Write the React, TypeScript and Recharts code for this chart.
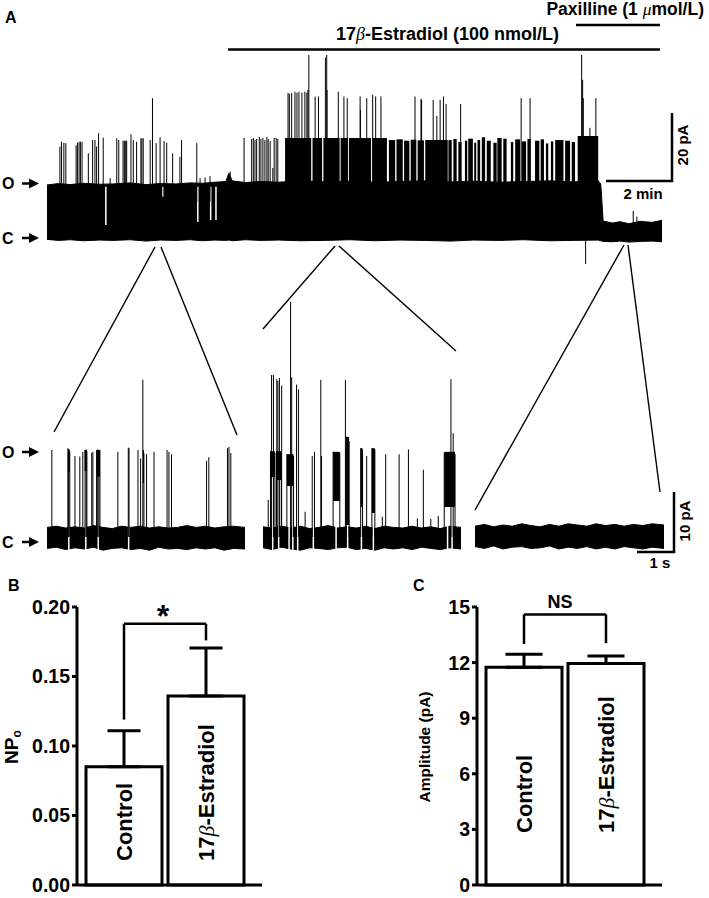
import React from 'react'
import {
  ComposedChart, Area, Line, XAxis, YAxis, ReferenceArea,
  BarChart, Bar, ErrorBar, LabelList, ReferenceLine,
} from 'recharts'

const FONT = '"Liberation Sans", Arial, Helvetica, sans-serif'
const SERIF = '"Liberation Serif", "DejaVu Serif", serif'

// ---------- A, whole recording: time in min, current in pA ----------
const topBandT = [0, 0.35, 0.7, 1.1, 1.6, 2.0, 2.51, 3.0, 3.42, 3.9, 4.33, 4.7, 5.08, 5.41, 5.5, 5.6, 6.0, 6.44, 7.0, 7.65,
  8.4, 9.17, 9.9, 10.68, 11.4, 12.19, 12.9, 13.7, 14.4, 15.21, 15.9, 16.67, 16.75, 16.82, 17.1, 17.33, 17.6, 17.94, 18.3, 18.6]
const topBandLo = [-1.0, -1.3, -1.1, -1.4, -1.2, -1.3, -1.1, -1.5, -1.2, -1.3, -1.1, -1.4, -1.2, -1.3, -1.2, -1.4, -1.1, -1.3, -1.2, -1.4,
  -1.3, -1.1, -1.4, -1.2, -1.3, -1.5, -1.2, -1.3, -1.1, -1.4, -1.3, -1.2, -1.4, -1.6, -1.7, -1.5, -1.8, -1.6, -1.5, -1.7]
const topBandHi = [15.0, 15.4, 15.1, 15.5, 15.2, 15.3, 15.6, 15.1, 15.4, 15.3, 15.6, 15.5, 15.8, 16.0, 18.5, 16.2, 15.7, 16.0, 15.8, 16.2,
  15.9, 16.1, 15.8, 16.0, 16.2, 15.9, 16.1, 15.8, 16.0, 16.2, 15.9, 16.3, 15.0, 4.4, 3.8, 4.2, 3.6, 4.3, 4.0, 4.6]

// openings above the band [t, peak]
const topSpikes: [number, number][] = [
  [0.39, 26.3], [0.44, 27.7], [0.51, 27.4], [0.57, 27.3], [0.88, 26.6], [0.92, 27.4], [0.97, 27.7], [1.01, 27.7], [1.06, 27.7],
  [1.25, 24.3], [1.38, 28.2], [1.45, 28.2], [1.5, 26.3], [1.56, 30.2], [1.7, 28.9], [1.91, 17.0], [2.11, 28.7], [2.17, 28.2],
  [2.3, 28.0], [2.34, 28.0], [2.38, 28.0], [2.41, 28.0], [2.54, 29.9], [2.61, 28.2], [2.71, 27.7], [2.84, 28.7], [2.87, 28.7],
  [2.91, 28.7], [3.12, 28.2], [3.19, 40.5], [3.3, 27.3], [3.42, 29.0], [3.54, 27.9], [3.62, 27.4], [3.8, 24.3], [4.02, 23.3],
  [4.07, 28.2], [4.53, 27.3], [4.63, 17.0], [4.78, 17.2], [4.93, 17.6], [5.54, 18.9],
  [5.96, 28.8], [6.19, 28.5], [6.24, 28.8], [6.29, 28.2], [6.34, 28.5], [6.42, 29.1], [6.47, 28.5], [6.53, 28.8], [6.59, 28.2],
  [6.65, 29.1], [6.69, 28.5], [6.75, 27.9], [6.83, 20.0], [6.87, 28.8], [6.93, 28.8], [6.98, 28.5],
  [7.29, 42.0], [7.33, 41.8], [7.4, 42.0], [7.5, 42.4], [7.56, 42.1], [7.62, 42.4], [7.71, 42.1], [7.8, 42.4], [7.86, 42.1],
  [7.89, 42.9], [7.92, 53.2], [8.11, 41.0], [8.21, 41.0], [8.42, 52.4], [8.46, 53.2], [8.47, 42.9], [8.81, 42.4], [8.98, 41.0],
  [9.08, 40.5], [9.47, 41.0], [9.48, 37.1], [9.67, 40.5], [9.85, 41.5], [9.94, 41.0], [10.1, 41.0], [11.13, 41.0], [11.31, 40.3],
  [11.33, 40.0], [11.68, 40.0], [11.79, 35.3], [11.89, 40.0], [11.99, 41.0], [12.07, 38.8], [12.51, 38.8], [14.34, 40.5],
  [14.61, 40.5], [16.17, 53.2], [16.2, 45.9], [16.22, 40.5], [16.42, 31.8], [16.6, 40.5], [16.73, 15.6],
]
const paxSpikes: [number, number][] = [[17.73, 7.4], [17.84, 5.7]]
const downSpikes: [number, number][] = [[16.29, -8.2]]
// stretches where openings pile up [t1, t2, lo, hi]
const topBlocks: [number, number, number, number][] = [
  [7.2, 7.99, 15, 28.8], [8.03, 8.32, 15, 28.8], [8.36, 8.85, 15, 28.8], [8.88, 9.1, 15, 28.8], [9.13, 9.8, 15, 28.8],
  [9.84, 10.28, 15, 28.8], [10.34, 10.53, 15, 28.2], [10.57, 10.76, 15, 28.4], [10.8, 10.96, 15, 28.0], [11.0, 11.17, 15, 28.3],
  [11.21, 11.4, 15, 28.1], [11.44, 12.12, 15, 28.2],
  [12.14, 12.24, 15, 28.2], [12.29, 12.39, 15, 28.5], [12.44, 12.54, 15, 27.6], [12.64, 12.71, 15, 28.0], [12.74, 12.88, 15, 28.6],
  [12.92, 12.98, 15, 27.4], [13.02, 13.1, 15, 28.2], [13.15, 13.25, 15, 29.0], [13.3, 13.42, 15, 28.0], [13.5, 13.6, 15, 27.4],
  [13.62, 13.75, 15, 28.8], [13.8, 13.9, 15, 28.6], [14.03, 14.1, 15, 27.6], [14.16, 14.31, 15, 28.4], [14.36, 14.49, 15, 27.8],
  [14.53, 14.63, 15, 28.5], [14.76, 14.89, 15, 28.0], [14.93, 15.03, 15, 28.4], [15.09, 15.16, 15, 27.2], [15.24, 15.31, 15, 27.8],
  [15.37, 15.62, 15, 28.2], [15.67, 15.82, 15, 28.0], [15.87, 15.97, 15, 27.6], [16.05, 16.67, 15, 29.4],
]
// long openings that leave the band empty [t, from, to]
const topGaps: [number, number, number][] = [[1.78, 14.5, 3.2], [3.51, 14.5, 11.5], [4.56, 14.5, 4.1], [4.95, 14.5, 4.7], [5.11, 14.5, 4.7]]

// ---------- A, expanded sweeps: time in s, current in pA ----------
const sweepT = [0, 0.25, 0.5, 0.75, 1, 1.25, 1.5, 1.75, 2, 2.25, 2.5, 2.75, 3, 3.25, 3.5, 3.75, 4, 4.25, 4.5, 4.75, 5, 5.31]
const ctlHi = [1.6, 1.8, 1.5, 1.7, 1.5, 1.9, 1.6, 1.4, 1.8, 1.6, 1.8, 1.5, 1.7, 1.5, 1.6, 1.9, 1.6, 1.8, 1.5, 1.7, 1.8, 1.6]
const ctlLo = [-1.9, -1.7, -2.1, -1.8, -2.0, -1.7, -2.2, -1.9, -1.8, -2.1, -1.9, -2.2, -1.7, -2.0, -1.9, -2.1, -1.8, -2.0, -1.8, -2.2, -1.9, -2.0]
const ctlSpikes: [number, number][] = [
  [0.13, 14.5], [0.56, 14.8], [0.58, 14.6], [0.61, 14.3], [0.75, 13.5], [0.88, 13.4], [0.96, 14.2], [1.02, 14.5], [1.05, 14.6],
  [1.07, 14.3], [1.2, 14.0], [1.23, 14.2], [1.33, 14.5], [1.36, 14.6], [1.39, 14.4], [1.42, 14.5], [1.9, 14.2], [2.18, 14.9],
  [2.2, 14.8], [2.44, 14.5], [2.51, 13.1], [2.57, 26.2], [2.6, 14.0], [2.67, 13.8], [2.87, 14.2], [3.22, 14.5], [3.27, 14.2],
  [3.34, 13.8], [4.28, 12.7], [4.34, 13.3], [4.84, 14.8], [4.88, 15.0], [4.93, 14.0],
]
const ctlBlocks: [number, number, number, number][] = [[0.56, 0.61, 10.9, 14.6], [1.01, 1.07, 11.0, 14.5], [1.33, 1.42, 10.1, 14.5], [2.57, 2.6, 9.0, 14.5]]
const ctlGaps: [number, number, number][] = [[0.585, 1.9, -2.3], [1.04, 1.9, -2.3], [1.375, 1.9, -2.3], [2.19, 1.9, -2.3]]

const e2Hi = [1.7, 1.5, 1.8, 1.5, 1.8, 1.4, 1.6, 1.9, 1.5, 1.7, 1.5, 1.8, 1.4, 1.8, 1.6, 1.5, 1.8, 1.5, 1.7, 1.4, 1.8, 1.6]
const e2Lo = [-1.8, -2.1, -1.7, -2.0, -2.2, -1.8, -1.9, -2.1, -1.8, -1.7, -2.1, -1.9, -2.2, -1.8, -2.0, -1.8, -2.1, -1.7, -1.9, -2.1, -1.8, -2.0]
const e2Spikes: [number, number][] = [
  [0.14, 6.2], [0.2, 14.3], [0.23, 27.0], [0.28, 27.0], [0.32, 14.0], [0.36, 14.3], [0.37, 26.3], [0.4, 26.0], [0.44, 26.5],
  [0.49, 14.0], [0.5, 25.2], [0.64, 13.8], [0.74, 39.2], [0.77, 26.6], [0.82, 13.5], [0.9, 25.4], [0.95, 24.6], [1.13, 4.2],
  [1.32, 13.5], [1.38, 14.2], [1.55, 26.2], [1.57, 13.5], [1.88, 14.2], [2.06, 14.0], [2.21, 26.2], [2.23, 16.7], [2.31, 16.0],
  [2.62, 14.8], [2.67, 14.5], [2.78, 13.5], [2.92, 14.8], [3.0, 14.6], [3.2, 3.4], [3.29, 13.8], [3.65, 13.8], [3.9, 14.6],
  [4.14, 3.1], [4.3, 11.2], [4.5, 3.0], [4.7, 3.5], [4.86, 14.0], [5.04, 26.3], [5.1, 17.3], [5.15, 13.8],
]
const e2Blocks: [number, number, number, number][] = [
  [0.2, 0.32, 10.0, 14.3], [0.36, 0.49, 9.5, 14.3], [0.64, 0.82, 8.5, 13.8], [1.88, 2.06, 6.0, 14.2], [2.23, 2.31, 2.0, 16.7],
  [2.62, 2.67, 5.0, 14.8], [2.92, 3.0, 4.0, 14.8], [4.86, 5.15, 5.0, 14.2],
]
const e2Gaps: [number, number, number][] = [
  [0.26, 1.9, -2.3], [0.42, 1.9, -2.3], [0.7, 1.9, -2.3], [0.8, 1.9, -2.3], [0.93, 1.9, -2.3], [1.35, 1.9, -2.3], [1.96, 1.9, -2.3],
  [2.27, 1.9, -2.3], [2.64, 1.9, -2.3], [2.96, 1.9, -2.3], [4.95, 1.9, -2.3], [5.07, 1.9, -2.3],
]

const paxT = [0, 0.25, 0.5, 0.75, 1, 1.25, 1.5, 1.75, 2, 2.25, 2.5, 2.75, 3, 3.25, 3.5, 3.75, 4, 4.25, 4.5, 4.75, 5.07]
const paxHi = [1.8, 2.1, 1.7, 2.0, 1.8, 2.2, 1.9, 1.7, 2.1, 1.8, 2.2, 2.0, 1.8, 2.2, 1.9, 2.1, 1.8, 2.1, 1.9, 2.2, 2.0]
const paxLo = [-1.6, -1.9, -1.5, -2.0, -1.7, -1.6, -1.9, -1.8, -1.5, -2.0, -1.7, -1.9, -1.6, -2.0, -1.7, -2.0, -1.6, -1.8, -2.0, -1.7, -1.9]

// ---------- B and C ----------
const groups = ['Control', '17β-Estradiol']
const npoMean = [0.085, 0.136]
const npoSem = [0.026, 0.0345]
const npoTicks = [0, 0.05, 0.1, 0.15, 0.2]
const ampMean = [11.75, 11.95]
const ampSem = [0.7, 0.4]
const ampTicks = [0, 3, 6, 9, 12, 15]
const npoBracket = [0.188, 0.119, 0.176] // bar height, left leg end, right leg end
const ampBracket = [14.6, 13.0, 13.05]

const band = (t: number[], lo: number[], hi: number[]) => t.map((x, i) => ({ t: x, r: [lo[i], hi[i]] }))
const sticks = (list: [number, number][], base: number) =>
  list.flatMap(([t, p]) => [{ t, v: base }, { t, v: p }, { t, v: null }])
const cuts = (list: [number, number, number][]) =>
  list.flatMap(([t, a, b]) => [{ t, v: a }, { t, v: b }, { t, v: null }])

function Trace(props: any) {
  const { left, top, width, height, xMax, yMin, yMax, bandData, blocks, gaps, spikes } = props
  return (
    <div style={{ position: 'absolute', left, top }}>
      <ComposedChart width={width} height={height} margin={{ top: 0, right: 0, bottom: 0, left: 0 }}>
        <XAxis type="number" dataKey="t" domain={[0, xMax]} hide allowDataOverflow />
        <YAxis type="number" domain={[yMin, yMax]} hide allowDataOverflow />
        <Area data={bandData} dataKey="r" type="linear" stroke="#000" strokeWidth={1} fill="#000" fillOpacity={1} isAnimationActive={false} />
        {blocks.map(([a, b, lo, hi]: number[], i: number) => (
          <ReferenceArea key={i} x1={a} x2={b} y1={lo} y2={hi} fill="#000" fillOpacity={1} stroke="none" ifOverflow="visible" />
        ))}
        <Line data={gaps} dataKey="v" stroke="#fff" strokeWidth={1.5} dot={false} connectNulls={false} isAnimationActive={false} />
        {spikes.map((s: any[], i: number) => (
          <Line key={i} data={s} dataKey="v" stroke="#000" strokeWidth={1} dot={false} connectNulls={false} isAnimationActive={false} />
        ))}
      </ComposedChart>
    </div>
  )
}

const barLabel = (lift: number) => (p: any) => {
  const { x, y, width, height, value } = p
  const cx = x + width / 2
  const by = y + height - lift
  const parts = String(value).split('β')
  return (
    <text x={cx} y={by} dy="0.36em" transform={`rotate(-90 ${cx} ${by})`} fontFamily={FONT} fontWeight="bold" fontSize={22} fill="#000">
      {parts[0]}
      {parts.length > 1 && <tspan fontFamily={SERIF} fontStyle="italic" fontWeight="normal">β</tspan>}
      {parts.length > 1 && parts[1]}
    </text>
  )
}

function Bars(props: any) {
  const { left, mean, sem, ticks, max, fmt, lift, cap, bracket } = props
  const data = groups.map((name, i) => ({ name, value: mean[i], err: [0, sem[i]] }))
  const [hTop, lEnd, rEnd] = bracket
  const ax = { stroke: '#000', strokeWidth: 3 }
  const br = { stroke: '#000', strokeWidth: 2.5, ifOverflow: 'visible' as const }
  return (
    <div style={{ position: 'absolute', left, top: 587 }}>
      <BarChart width={250} height={310} data={data} margin={{ top: 20, right: 5, bottom: 11, left: 0 }}>
        <XAxis dataKey="name" tick={false} tickLine={false} axisLine={ax} height={1} padding={{ left: 6, right: 15 }} />
        <YAxis domain={[0, max]} ticks={ticks} interval={0} tickFormatter={fmt} width={60} tickSize={5} tickMargin={2}
          axisLine={ax} tickLine={ax} tick={{ fill: '#000', fontSize: 19.5, fontWeight: 'bold', fontFamily: FONT }} />
        <Bar dataKey="value" barSize={76} fill="#fff" stroke="#000" strokeWidth={3} isAnimationActive={false}>
          <ErrorBar dataKey="err" width={cap} stroke="#000" strokeWidth={3} direction="y" />
          <LabelList dataKey="name" content={barLabel(lift)} />
        </Bar>
        <ReferenceLine segment={[{ x: groups[0], y: hTop }, { x: groups[1], y: hTop }]} {...br} />
        <ReferenceLine segment={[{ x: groups[0], y: hTop }, { x: groups[0], y: lEnd }]} {...br} />
        <ReferenceLine segment={[{ x: groups[1], y: hTop }, { x: groups[1], y: rEnd }]} {...br} />
      </BarChart>
    </div>
  )
}

function Overlay() {
  const arrow = (y: number, letter: string) => (
    <g key={letter + y}>
      <text x={2} y={y + 5.7} fontSize={16} fontWeight="bold">{letter}</text>
      <line x1={22} y1={y} x2={31} y2={y} stroke="#000" strokeWidth={2.5} />
      <polygon points={`29,${y - 5} 39,${y} 29,${y + 5}`} fill="#000" />
    </g>
  )
  const zoom = [
    [155, 247, 54, 432], [161, 247, 237, 435], [335, 246, 263, 329],
    [339, 246, 456, 351], [624, 245, 475, 510], [628, 245, 660, 492],
  ]
  const beta = <tspan fontFamily={SERIF} fontStyle="italic" fontWeight="normal">β</tspan>
  return (
    <svg width={709} height={898} style={{ position: 'absolute', left: 0, top: 0, pointerEvents: 'none' }}
      fontFamily={FONT} fill="#000">
      <text x={5} y={23} fontSize={16} fontWeight="bold">A</text>
      <text x={8} y={591} fontSize={16} fontWeight="bold">B</text>
      <text x={413} y={591} fontSize={16} fontWeight="bold">C</text>

      <text x={704} y={15} fontSize={17.5} fontWeight="bold" textAnchor="end">
        Paxilline (1 <tspan fontFamily={SERIF} fontStyle="italic" fontWeight="normal">μ</tspan>mol/L)
      </text>
      <line x1={576} y1={25} x2={660} y2={25} stroke="#000" strokeWidth={2.5} />
      <text x={336} y={39.5} fontSize={18} fontWeight="bold">17{beta}-Estradiol (100 nmol/L)</text>
      <line x1={228} y1={49.5} x2={660} y2={49.5} stroke="#000" strokeWidth={2.5} />

      {arrow(183.5, 'O')}
      {arrow(238, 'C')}
      {arrow(452, 'O')}
      {arrow(542, 'C')}

      <polyline points="672,113 672,181 606,181" fill="none" stroke="#000" strokeWidth={2.5} />
      <text x={688} y={145} fontSize={15} fontWeight="bold" textAnchor="middle" transform="rotate(-90 688 145)">20 pA</text>
      <text x={643} y={199} fontSize={15} fontWeight="bold" textAnchor="middle">2 min</text>

      <polyline points="674,492 674,552 637,552" fill="none" stroke="#000" strokeWidth={2.5} />
      <text x={690} y={521} fontSize={15} fontWeight="bold" textAnchor="middle" transform="rotate(-90 690 521)">10 pA</text>
      <text x={660} y={568} fontSize={15} fontWeight="bold" textAnchor="middle">1 s</text>

      {zoom.map(([x1, y1, x2, y2], i) => (
        <line key={i} x1={x1} y1={y1} x2={x2} y2={y2} stroke="#000" strokeWidth={1.4} />
      ))}

      <text x={163} y={627} fontSize={32} fontWeight="bold" textAnchor="middle">*</text>
      <text x={560} y={608} fontSize={18} fontWeight="bold" textAnchor="middle">NS</text>

      <text x={18} y={747} fontSize={19} fontWeight="bold" textAnchor="middle" transform="rotate(-90 18 747)">
        NP<tspan fontSize={12} dy={3}>o</tspan>
      </text>
      <text x={430} y={747} fontSize={15.5} fontWeight="bold" textAnchor="middle" transform="rotate(-90 430 747)">
        Amplitude (pA)
      </text>
    </svg>
  )
}

export default function App() {
  const topSticks = [sticks(topSpikes, 10), sticks(paxSpikes, 1), sticks(downSpikes, 2)]
  return (
    <div style={{ position: 'absolute', left: 0, top: 0, width: 709, height: 898, overflow: 'hidden', background: '#fff', fontFamily: FONT }}>
      <Trace left={47} top={40} width={615} height={230} xMax={18.6} yMin={-10} yMax={57.6}
        bandData={band(topBandT, topBandLo, topBandHi)} blocks={topBlocks} gaps={cuts(topGaps)} spikes={topSticks} />
      <Trace left={47} top={290} width={198} height={270} xMax={5.31} yMin={-3.833} yMax={41.167}
        bandData={band(sweepT, ctlLo, ctlHi)} blocks={ctlBlocks} gaps={cuts(ctlGaps)} spikes={[sticks(ctlSpikes, 0)]} />
      <Trace left={263} top={290} width={198} height={270} xMax={5.31} yMin={-3.833} yMax={41.167}
        bandData={band(sweepT, e2Lo, e2Hi)} blocks={e2Blocks} gaps={cuts(e2Gaps)} spikes={[sticks(e2Spikes, 0)]} />
      <Trace left={475} top={290} width={189} height={270} xMax={5.07} yMin={-3.833} yMax={41.167}
        bandData={band(paxT, paxLo, paxHi)} blocks={[]} gaps={[]} spikes={[]} />
      <Bars left={17} mean={npoMean} sem={npoSem} ticks={npoTicks} max={0.2} fmt={(v: number) => v.toFixed(2)}
        lift={24} cap={16.5} bracket={npoBracket} />
      <Bars left={417} mean={ampMean} sem={ampSem} ticks={ampTicks} max={15} fmt={(v: number) => String(v)}
        lift={52} cap={18.5} bracket={ampBracket} />
      <Overlay />
    </div>
  )
}
